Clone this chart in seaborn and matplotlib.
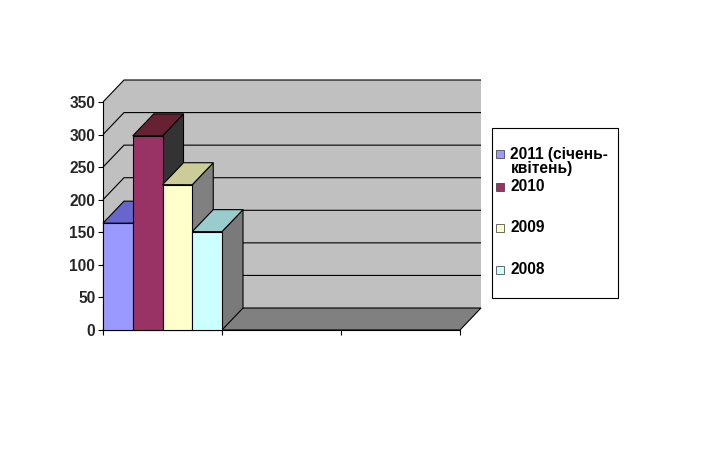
import numpy as np
import pandas as pd
import matplotlib
matplotlib.use("Agg")
import matplotlib.pyplot as plt
from matplotlib.patches import Polygon, Rectangle
import seaborn as sns

# ---- data -------------------------------------------------------------
series = ["2011 (січень-\nквітень)", "2010", "2009", "2008"]
values = [164, 298, 223, 151]
colors_front = ["#9999FF", "#993366", "#FFFFCC", "#CCFFFF"]
colors_top = ["#6666CC", "#662233", "#CCCC99", "#99CCCC"]
colors_side = ["#4D4D80", "#333333", "#808080", "#7A7A7A"]
y_ticks = [0, 50, 100, 150, 200, 250, 300, 350]
n_slots = 3

df = pd.DataFrame({"period": [""] * len(series), "series": series, "value": values})

# ---- style ------------------------------------------------------------
sns.set_theme(style="white")
plt.rcParams["font.family"] = ["Liberation Sans", "DejaVu Sans"]
plt.rcParams["font.weight"] = "bold"
FS = 11.2

W, H, DPI = 720, 450, 100
fig = plt.figure(figsize=(W / DPI, H / DPI), dpi=DPI)
fig.patch.set_facecolor("white")


def fx(px):
    return px / W


def fy(py):
    return 1 - py / H


# front plane of the plot box
ax = fig.add_axes([fx(103), fy(330), fx(460) - fx(103), fy(102) - fy(330)])
ax.set_facecolor("none")

sns.barplot(data=df, x="period", y="value", hue="series", hue_order=series,
            palette=colors_front, saturation=1, width=1.0, dodge=True,
            edgecolor="black", linewidth=0.8, legend=False, ax=ax)
bars = sorted(ax.patches, key=lambda p: p.get_x())

ax.set_xlim(-0.5, n_slots - 0.5)
ax.set_ylim(0, max(y_ticks))
ax.set_xlabel("")
ax.set_ylabel("")

# depth of the 3D box in pixels, converted to data units
DEPTH_X, DEPTH_Y = 21, 22
fig.canvas.draw()
p0 = ax.transData.transform((0, 0))
d = ax.transData.inverted().transform(p0 + np.array([DEPTH_X, DEPTH_Y]))
ddx, ddy = d[0], d[1]

x0, x1 = ax.get_xlim()
ytop = max(y_ticks)
wall = "#C0C0C0"
floor = "#808080"

# back wall and side wall
ax.add_patch(Polygon([(x0 + ddx, ddy), (x1 + ddx, ddy), (x1 + ddx, ytop + ddy),
                      (x0 + ddx, ytop + ddy)], closed=True, facecolor=wall,
                     edgecolor="none", zorder=0.2, clip_on=False))
ax.add_patch(Polygon([(x0, 0), (x0 + ddx, ddy), (x0 + ddx, ytop + ddy), (x0, ytop)],
                     closed=True, facecolor=wall, edgecolor="none", zorder=0.2,
                     clip_on=False))
# gridlines on the walls
for v in y_ticks[1:]:
    ax.plot([x0, x0 + ddx, x1 + ddx], [v, v + ddy, v + ddy], color="black",
            lw=0.8, zorder=0.4, clip_on=False, solid_capstyle="butt")
# floor
ax.add_patch(Polygon([(x0, 0), (x1, 0), (x1 + ddx, ddy), (x0 + ddx, ddy)],
                     closed=True, facecolor=floor, edgecolor="black", lw=0.8,
                     zorder=0.5, clip_on=False))

# 3D faces of each bar: side then top, stacked left to right
for i, p in enumerate(bars):
    bx, bw, bh = p.get_x(), p.get_width(), p.get_height()
    z = 2 + i * 0.1
    side = Polygon([(bx + bw, 0), (bx + bw, bh), (bx + bw + ddx, bh + ddy),
                    (bx + bw + ddx, ddy)], closed=True, facecolor=colors_side[i],
                   edgecolor="black", lw=0.8, zorder=z, clip_on=False)
    top = Polygon([(bx, bh), (bx + bw, bh), (bx + bw + ddx, bh + ddy),
                   (bx + ddx, bh + ddy)], closed=True, facecolor=colors_top[i],
                  edgecolor="black", lw=0.8, zorder=z, clip_on=False)
    ax.add_patch(side)
    ax.add_patch(top)
    p.set_zorder(z + 0.05)
    p.set_clip_on(False)

# axes
sns.despine(ax=ax, top=True, right=True)
for s in ("left", "bottom"):
    ax.spines[s].set_color("black")
    ax.spines[s].set_linewidth(0.8)
    ax.spines[s].set_zorder(1)
ax.set_yticks(y_ticks)
ax.set_yticklabels([str(v) for v in y_ticks])
ax.set_xticks(np.arange(x0, x1 + 0.01, 1.0))
ax.set_xticklabels([])
ax.tick_params(axis="both", direction="out", length=3.5, width=0.8,
               color="black", labelsize=FS, pad=2, left=True, bottom=True)
for t in ax.get_yticklabels():
    t.set_fontweight("bold")

# legend box
fig.add_artist(Rectangle((fx(491.7), fy(298)), fx(617.7) - fx(491.7),
                         fy(127.7) - fy(298), transform=fig.transFigure,
                         facecolor="white", edgecolor="black", lw=0.8))
entry_baselines = [158.5, 191, 232, 274]
line_pitch = 15
for label, col, yb in zip(series, colors_front, entry_baselines):
    fig.add_artist(Rectangle((fx(496), fy(yb - 0.5)), fx(8), 8 / H,
                             transform=fig.transFigure, facecolor=col,
                             edgecolor="#333333", lw=0.5))
    for k, line in enumerate(label.split("\n")):
        fig.text(fx(510.5), fy(yb + k * line_pitch), line, fontsize=FS,
                 fontweight="bold", color="black", ha="left", va="baseline")

fig.savefig("out.png", dpi=DPI, facecolor="white")
